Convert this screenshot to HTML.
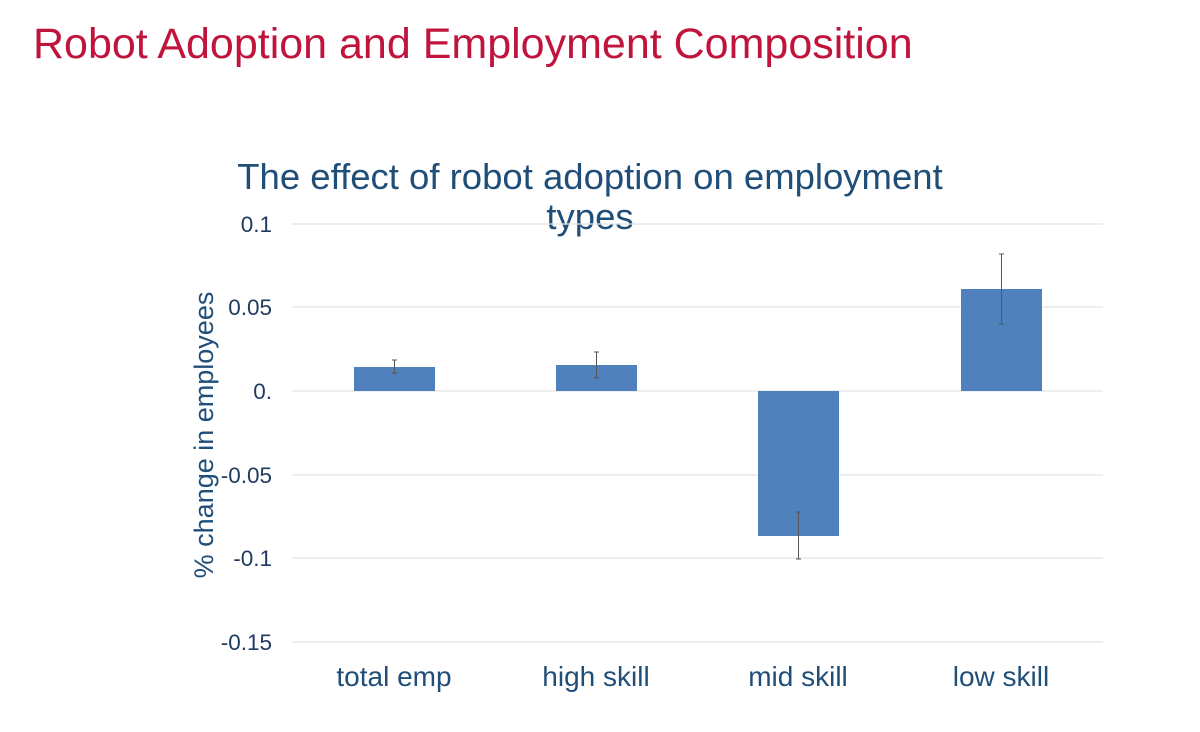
<!DOCTYPE html>
<html><head><meta charset="utf-8"><style>
body{margin:0;width:1200px;height:727px;background:#fff;overflow:hidden;font-family:"Liberation Sans",sans-serif}
</style></head><body>
<svg width="1200" height="727" xmlns="http://www.w3.org/2000/svg" font-family="Liberation Sans, sans-serif">
<text x="33" y="58" font-size="43" fill="#c0143c">Robot Adoption and Employment Composition</text>
<text x="590" y="189" font-size="36.5" fill="#1f4e79" text-anchor="middle">The effect of robot adoption on employment</text>
<text x="590" y="229" font-size="36.5" fill="#1f4e79" text-anchor="middle">types</text>
<g stroke="#e3e3e3" stroke-width="1.3">
<line x1="292" x2="1103" y1="224" y2="224"/><line x1="292" x2="1103" y1="307" y2="307"/>
<line x1="292" x2="1103" y1="391" y2="391"/><line x1="292" x2="1103" y1="475" y2="475"/>
<line x1="292" x2="1103" y1="558" y2="558"/><line x1="292" x2="1103" y1="642" y2="642"/>
</g>
<g font-size="22.5" fill="#1f3a5f" text-anchor="end">
<text x="272" y="232">0.1</text><text x="272" y="315">0.05</text><text x="272" y="399">0.</text>
<text x="272" y="483">-0.05</text><text x="272" y="566">-0.1</text><text x="272" y="650">-0.15</text>
</g>
<text transform="translate(213,435) rotate(-90)" font-size="27" fill="#1f4e79" text-anchor="middle">% change in employees</text>
<g fill="#4f81bd">
<rect x="354" y="367" width="81" height="24"/><rect x="556" y="365" width="81" height="26"/>
<rect x="758" y="391" width="81" height="145"/><rect x="961" y="289" width="81" height="102"/>
</g>
<g stroke="#555" stroke-width="1">
<line x1="394.5" x2="394.5" y1="360" y2="373"/><line x1="392" x2="397" y1="360" y2="360"/><line x1="392" x2="397" y1="373" y2="373"/>
<line x1="596.5" x2="596.5" y1="352" y2="378"/><line x1="594" x2="599" y1="352" y2="352"/><line x1="594" x2="599" y1="378" y2="378"/>
<line x1="798.5" x2="798.5" y1="512" y2="559"/><line x1="796" x2="801" y1="512" y2="512"/><line x1="796" x2="801" y1="559" y2="559"/>
<line x1="1001.5" x2="1001.5" y1="254" y2="324"/><line x1="999" x2="1004" y1="254" y2="254"/><line x1="999" x2="1004" y1="324" y2="324"/>
</g>
<g font-size="28" fill="#1f4e79" text-anchor="middle">
<text x="394" y="686">total emp</text><text x="596" y="686">high skill</text>
<text x="798" y="686">mid skill</text><text x="1001" y="686">low skill</text>
</g>
</svg>
</body></html>
